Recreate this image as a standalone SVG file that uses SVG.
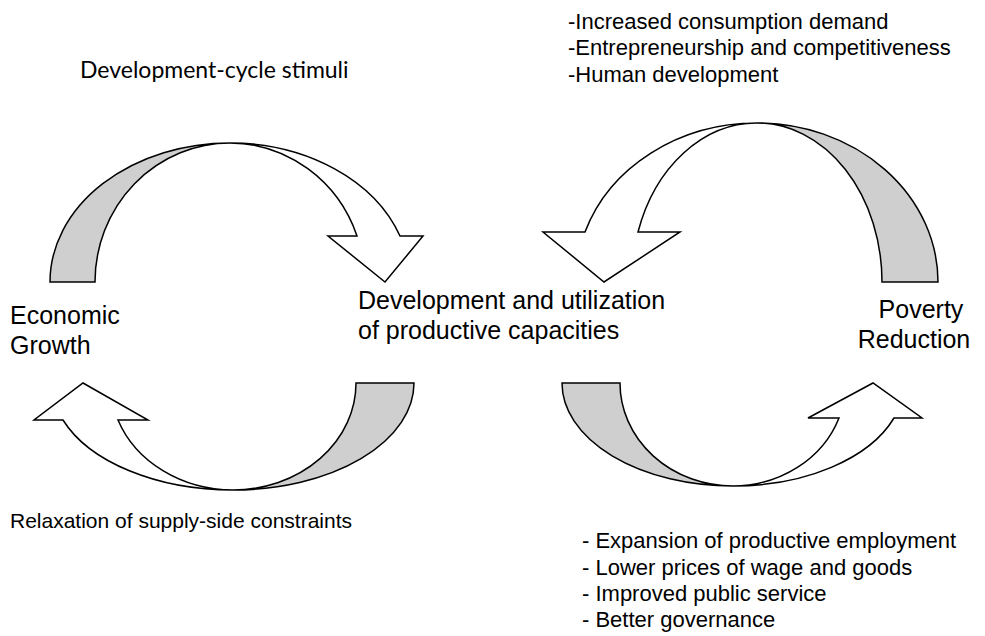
<svg xmlns="http://www.w3.org/2000/svg" width="985" height="636" viewBox="0 0 985 636">
<style>
.a{font-family:"Liberation Sans",Arial,sans-serif;font-size:25px;fill:#000}
.s{font-family:"Liberation Sans",Arial,sans-serif;font-size:21px;fill:#000}
.l{font-family:"Liberation Sans",Arial,sans-serif;font-size:22px;fill:#000}
.c{font-family:Lato,"Open Sans",sans-serif;font-size:23px;fill:#000}
.sh{fill:#cfcfcf;stroke:#000;stroke-width:1.5;stroke-linejoin:miter}
.wh{fill:#fff;stroke:#000;stroke-width:1.5;stroke-linejoin:miter}
</style>
<rect width="985" height="636" fill="#fff"/>
<g id="connectors">
  <g id="arrow-top-left">
    <path class="sh" d="M50,282 A180,139 0 0 1 230,143 A135,139 0 0 0 95,282 Z"/>
    <path class="wh" d="M230,143 A180,139 0 0 1 400,236 L423,236 L385,282 L328,236 L357,236 A135,139 0 0 0 230,143 Z"/>
  </g>
  <g id="arrow-top-right">
    <path class="sh" d="M938,282 A181,159 0 0 0 757,123 A125,159 0 0 1 882,282 Z"/>
    <path class="wh" d="M757,123 A181,159 0 0 0 585,232 L543,232 L604,282 L680,232 L638,232 A125,159 0 0 1 757,123 Z"/>
  </g>
  <g id="arrow-bottom-left">
    <path class="sh" d="M414,383 A181,107 0 0 1 233,490 A123,107 0 0 0 356,383 Z"/>
    <path class="wh" d="M233,490 A181,107 0 0 1 63,420 L34,420 L83,383 L148,420 L118,420 A123,107 0 0 0 233,490 Z"/>
  </g>
  <g id="arrow-bottom-right">
    <path class="sh" d="M562,383 A171,103 0 0 0 733,486 A113,103 0 0 1 620,383 Z"/>
    <path class="wh" d="M733,486 A171,103 0 0 0 894,418 L922,418 L873,383 L808,418 L839,418 A113,103 0 0 1 733,486 Z"/>
  </g>
</g>
<g id="node-economic-growth">
  <text class="a" x="10" y="324">Economic</text>
  <text class="a" x="10" y="354">Growth</text>
</g>
<g id="node-productive-capacities">
  <text class="a" x="358" y="309">Development and utilization</text>
  <text class="a" x="358" y="339">of productive capacities</text>
</g>
<g id="node-poverty-reduction">
  <text class="a" x="921" y="318" text-anchor="middle">Poverty</text>
  <text class="a" x="914" y="348" text-anchor="middle">Reduction</text>
</g>
<g id="label-stimuli">
  <text class="c" x="80" y="78">Development-cycle stimuli</text>
</g>
<g id="label-top-right">
  <text class="l" x="568" y="29">-Increased consumption demand</text>
  <text class="l" x="568" y="55">-Entrepreneurship and competitiveness</text>
  <text class="l" x="568" y="82">-Human development</text>
</g>
<g id="label-relaxation">
  <text class="s" x="10" y="528">Relaxation of supply-side constraints</text>
</g>
<g id="label-bottom-right">
  <text class="l" x="582" y="548">- Expansion of productive employment</text>
  <text class="l" x="582" y="575">- Lower prices of wage and goods</text>
  <text class="l" x="582" y="601">- Improved public service</text>
  <text class="l" x="582" y="627">- Better governance</text>
</g>
</svg>
